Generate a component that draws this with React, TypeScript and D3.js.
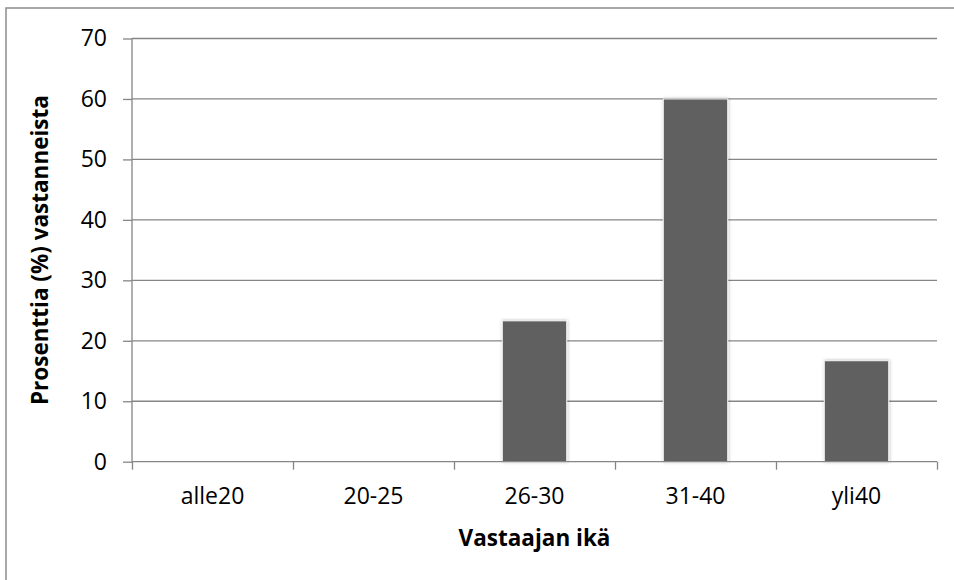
import React, { useRef, useEffect } from "react";
import * as d3 from "d3";

const categories = ["alle20", "20-25", "26-30", "31-40", "yli40"];
const values = [0, 0, 23.3, 60, 16.7];
const yTicks = [0, 10, 20, 30, 40, 50, 60, 70];
const xTitle = "Vastaajan ikä";
const yTitle = "Prosenttia (%) vastanneista";

const App: React.FC = () => {
  const svgRef = useRef<SVGSVGElement>(null);

  useEffect(() => {
    if (!svgRef.current) return;
    const svg = d3.select(svgRef.current);
    svg.selectAll("*").remove();

    const width = 954;
    const height = 580;
    const margin = { top: 38.5, right: 17, bottom: 118.3, left: 132 };
    const innerWidth = width - margin.left - margin.right;
    const innerHeight = height - margin.top - margin.bottom;
    const font = "'Open Sans', 'Noto Sans', sans-serif";
    const axisColor = "#868686";

    // drop shadow for the bars
    const defs = svg.append("defs");
    const filter = defs
      .append("filter")
      .attr("id", "barShadow")
      .attr("x", "-20%")
      .attr("y", "-10%")
      .attr("width", "140%")
      .attr("height", "120%");
    filter
      .append("feDropShadow")
      .attr("dx", 0.5)
      .attr("dy", 0)
      .attr("stdDeviation", 1.8)
      .attr("flood-color", "#000")
      .attr("flood-opacity", 0.3);

    // chart border (cut off on right and bottom like the reference)
    svg
      .append("rect")
      .attr("x", 6)
      .attr("y", 8)
      .attr("width", 960)
      .attr("height", 590)
      .attr("fill", "white")
      .attr("stroke", "#8c8c8c")
      .attr("stroke-width", 1.5);

    const xScale = d3
      .scaleBand<string>()
      .domain(categories)
      .range([0, innerWidth])
      .paddingInner(0.6)
      .paddingOuter(0.3);

    const xEdges = d3
      .scaleLinear()
      .domain([0, categories.length])
      .range([0, innerWidth]);

    const yScale = d3.scaleLinear().domain([0, 70]).range([innerHeight, 0]);

    const g = svg
      .append("g")
      .attr("transform", `translate(${margin.left},${margin.top})`);

    // gridlines
    g.append("g")
      .selectAll("line")
      .data(yTicks.filter((t) => t > 0))
      .enter()
      .append("line")
      .attr("x1", 0)
      .attr("x2", innerWidth)
      .attr("y1", (d) => yScale(d))
      .attr("y2", (d) => yScale(d))
      .attr("stroke", axisColor)
      .attr("stroke-width", 1.3);

    // bars
    g.append("g")
      .selectAll("rect")
      .data(values.map((v, i) => ({ v, c: categories[i] })).filter((d) => d.v > 0))
      .enter()
      .append("rect")
      .attr("x", (d) => xScale(d.c)!)
      .attr("y", (d) => yScale(d.v))
      .attr("width", xScale.bandwidth())
      .attr("height", (d) => innerHeight - yScale(d.v))
      .attr("fill", "#606060")
      .attr("stroke", "#f2f2f2")
      .attr("stroke-width", 1)
      .attr("filter", "url(#barShadow)");

    // y axis
    const yAxis = g
      .append("g")
      .call(d3.axisLeft(yScale).tickValues(yTicks).tickSize(9).tickPadding(16))
      .call((a) => a.select(".domain").attr("stroke", axisColor).attr("stroke-width", 1.3).attr("d", `M0,${innerHeight}V0`));
    yAxis.selectAll(".tick line").attr("stroke", axisColor).attr("stroke-width", 1.3);
    yAxis
      .selectAll(".tick text")
      .attr("font-family", font)
      .attr("font-size", 23)
      .attr("fill", "#000");

    // x axis
    const xAxis = g
      .append("g")
      .attr("transform", `translate(0,${innerHeight})`)
      .call(
        d3
          .axisBottom(xEdges)
          .tickValues(d3.range(categories.length + 1))
          .tickSize(8)
          .tickFormat(() => "")
      )
      .call((a) => a.select(".domain").attr("stroke", axisColor).attr("stroke-width", 1.3).attr("d", `M0,0H${innerWidth}`));
    xAxis.selectAll(".tick line").attr("stroke", axisColor).attr("stroke-width", 1.3);

    g.append("g")
      .selectAll("text")
      .data(categories)
      .enter()
      .append("text")
      .attr("x", (d) => xScale(d)! + xScale.bandwidth() / 2)
      .attr("y", innerHeight + 42)
      .attr("text-anchor", "middle")
      .attr("font-family", font)
      .attr("font-size", 23)
      .attr("fill", "#000")
      .text((d) => d);

    // axis titles
    g.append("text")
      .attr("x", innerWidth / 2)
      .attr("y", innerHeight + 84)
      .attr("text-anchor", "middle")
      .attr("font-family", font)
      .attr("font-weight", "bold")
      .attr("font-size", 22.5)
      .attr("fill", "#000")
      .text(xTitle);

    g.append("text")
      .attr("transform", "rotate(-90)")
      .attr("x", -innerHeight / 2)
      .attr("y", -84)
      .attr("text-anchor", "middle")
      .attr("font-family", font)
      .attr("font-weight", "bold")
      .attr("font-size", 22.5)
      .attr("fill", "#000")
      .text(yTitle);
  }, []);

  return (
    <svg
      ref={svgRef}
      width={954}
      height={580}
      style={{ position: "absolute", left: 0, top: 0, display: "block" }}
    ></svg>
  );
};

export default App;
